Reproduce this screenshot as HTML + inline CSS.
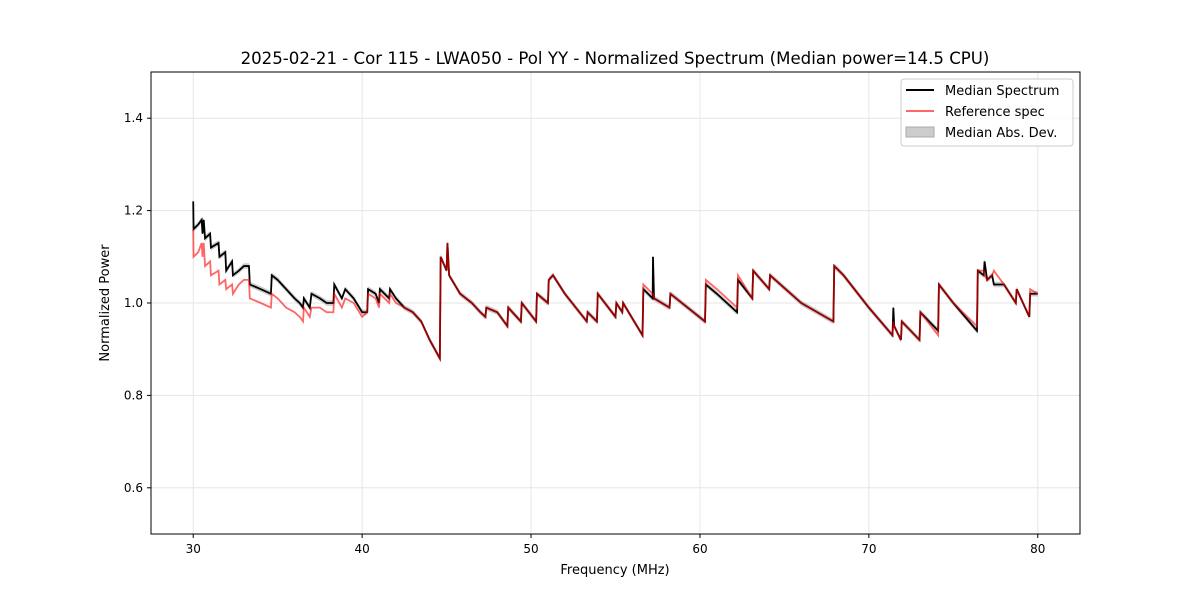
<!DOCTYPE html>
<html><head><meta charset="utf-8"><style>
body{margin:0;background:#fff}
svg{font-family:"DejaVu Sans","Liberation Sans",sans-serif}
</style></head><body>
<svg id="chart" width="1200" height="600">
<rect width="1200" height="600" fill="#fff"/>
<g id="grid"></g>
<g id="band"></g>
<g id="lines"></g>
<rect x="151" y="72" width="929" height="462" fill="none" stroke="#000" stroke-width="1"/>
<g id="ticks"></g>
<text x="615" y="64" font-size="16.6" text-anchor="middle">2025-02-21 - Cor 115 - LWA050 - Pol YY - Normalized Spectrum (Median power=14.5 CPU)</text>
<text x="615" y="574" font-size="13" text-anchor="middle">Frequency (MHz)</text>
<text transform="translate(109,303) rotate(-90)" font-size="13" text-anchor="middle">Normalized Power</text>
<g>
<rect x="901" y="79" width="172" height="67" rx="3" fill="#fff" fill-opacity="0.8" stroke="#ccc"/>
<g><line x1="906" y1="90" x2="934" y2="90" stroke="#000" stroke-width="2"/><text x="945" y="95" font-size="13">Median Spectrum</text></g>
<g><line x1="906" y1="111" x2="934" y2="111" stroke="#ff6666" stroke-width="2"/><text x="945" y="116" font-size="13">Reference spec</text></g>
<g><rect x="906" y="127" width="28" height="10" fill="#ccc" stroke="#aaa"/><text x="945" y="137" font-size="13">Median Abs. Dev.</text></g>
</g>
</svg>
<script>
const freqs=[30.0,30.02,30.3,30.5,30.55,30.62,30.7,31.0,31.05,31.5,31.55,31.9,31.95,32.3,32.35,32.7,33.0,33.3,33.35,34.0,34.6,34.65,35.0,35.5,36.0,36.3,36.5,36.55,36.9,37.0,37.5,37.9,38.3,38.35,38.8,39.0,39.5,40.0,40.3,40.35,40.8,41.0,41.05,41.6,41.65,42.0,42.5,43.0,43.5,44.0,44.6,44.65,45.0,45.05,45.15,45.8,46.5,47.0,47.3,47.35,48.0,48.6,48.65,49.4,49.45,50.3,50.35,51.0,51.05,51.3,52.0,53.3,53.35,53.9,53.95,55.0,55.05,55.4,55.45,56.6,56.65,57.2,57.22,57.28,58.2,58.25,60.3,60.35,61.0,62.2,62.25,63.1,63.15,64.1,64.15,66.0,67.9,67.95,68.5,70.0,71.4,71.45,71.5,71.9,71.95,73.0,73.05,74.1,74.15,75.0,76.4,76.45,76.8,76.85,77.0,77.3,77.4,78.0,78.7,78.75,79.5,79.55,80.0];
const median=[1.22,1.16,1.17,1.18,1.15,1.18,1.14,1.15,1.12,1.13,1.10,1.11,1.07,1.09,1.06,1.07,1.08,1.08,1.04,1.03,1.02,1.06,1.05,1.03,1.01,1.00,0.99,1.01,0.99,1.02,1.01,1.00,1.00,1.04,1.01,1.03,1.01,0.98,0.98,1.03,1.02,1.00,1.03,1.01,1.03,1.01,0.99,0.98,0.96,0.92,0.88,1.10,1.07,1.13,1.06,1.02,1.00,0.98,0.97,0.99,0.98,0.95,0.99,0.96,1.00,0.96,1.02,1.00,1.05,1.06,1.02,0.96,0.98,0.96,1.02,0.97,1.00,0.98,1.00,0.93,1.03,1.01,1.10,1.01,0.99,1.02,0.96,1.04,1.02,0.98,1.05,1.01,1.07,1.03,1.06,1.00,0.96,1.08,1.06,0.99,0.93,0.99,0.95,0.92,0.96,0.92,0.98,0.94,1.04,1.00,0.94,1.07,1.06,1.09,1.05,1.06,1.04,1.04,1.00,1.03,0.97,1.02,1.02];
const reference=[1.16,1.10,1.11,1.13,1.10,1.13,1.08,1.09,1.06,1.07,1.04,1.05,1.03,1.04,1.02,1.04,1.05,1.05,1.01,1.00,0.99,1.02,1.01,0.99,0.98,0.97,0.96,0.99,0.97,0.99,0.99,0.98,0.98,1.02,0.99,1.01,1.00,0.97,0.98,1.02,1.01,0.99,1.02,1.00,1.02,1.00,0.99,0.98,0.96,0.92,0.88,1.10,1.07,1.13,1.06,1.02,1.00,0.98,0.97,0.99,0.98,0.95,0.99,0.96,1.00,0.96,1.02,1.00,1.05,1.06,1.02,0.96,0.98,0.96,1.02,0.97,1.00,0.98,1.00,0.93,1.04,1.02,1.02,1.01,0.99,1.02,0.96,1.05,1.03,0.99,1.06,1.01,1.07,1.03,1.06,1.00,0.96,1.08,1.06,0.99,0.93,0.96,0.95,0.92,0.96,0.92,0.98,0.93,1.04,1.00,0.95,1.07,1.07,1.06,1.05,1.06,1.07,1.04,1.00,1.03,0.97,1.03,1.02];
const madHalfWidth=0.006;
const xTicks=[30,40,50,60,70,80];
const yTicks=[0.6,0.8,1.0,1.2,1.4];
const X0=151,X1=1080,Y0=72,Y1=534,xmin=27.5,xmax=82.5,ymin=0.5,ymax=1.5;
const xs=v=>X0+(v-xmin)/(xmax-xmin)*(X1-X0);
const ys=v=>Y1-(v-ymin)/(ymax-ymin)*(Y1-Y0);
const NS='http://www.w3.org/2000/svg';
function mk(tag,attrs,parent){const e=document.createElementNS(NS,tag);for(const k in attrs)e.setAttribute(k,attrs[k]);document.getElementById(parent).appendChild(e);return e;}
xTicks.forEach(t=>{
 const g=mk('line',{x1:xs(t),x2:xs(t),y1:Y0,y2:Y1,stroke:'#e6e6e6'},'grid');
 
 
 const k=mk('line',{x1:xs(t),x2:xs(t),y1:Y1,y2:Y1+4,stroke:'#000'},'ticks');
 
 
 const l=mk('text',{x:xs(t),y:Y1+19,'font-size':12,'text-anchor':'middle'},'ticks');
 l.textContent=t;
 
 
});
yTicks.forEach(t=>{
 const g=mk('line',{x1:X0,x2:X1,y1:ys(t),y2:ys(t),stroke:'#e6e6e6'},'grid');
 
 
 const k=mk('line',{x1:X0-4,x2:X0,y1:ys(t),y2:ys(t),stroke:'#000'},'ticks');
 
 
 const l=mk('text',{x:X0-8,y:ys(t)+4,'font-size':12,'text-anchor':'end'},'ticks');
 l.textContent=t.toFixed(1);
 
 
});
let up=freqs.map((f,i)=>xs(f)+','+ys(median[i]+madHalfWidth));
let dn=freqs.map((f,i)=>xs(f)+','+ys(median[i]-madHalfWidth)).reverse();
const band=mk('polygon',{points:up.concat(dn).join(' '),fill:'#999',opacity:0.5},'band');


const mpl=mk('polyline',{points:freqs.map((f,i)=>xs(f)+','+ys(median[i])).join(' '),fill:'none',stroke:'#000','stroke-width':1.8},'lines');


const rpl=mk('polyline',{points:freqs.map((f,i)=>xs(f)+','+ys(reference[i])).join(' '),fill:'none',stroke:'red','stroke-opacity':0.6,'stroke-width':1.8},'lines');


</script>
</body></html>
